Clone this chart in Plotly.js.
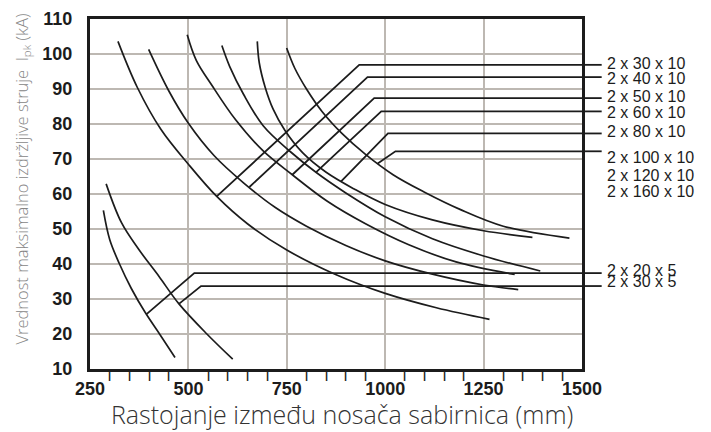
<!DOCTYPE html>
<html><head><meta charset="utf-8">
<script src="https://cdn.plot.ly/plotly-3.0.1.min.js"></script>
<style>html,body{margin:0;padding:0;background:#fff}#chart{width:711px;height:432px}</style>
</head><body><div id="chart"></div>
<script>
// ---- curve data (distance between supports in mm, peak current kA) ----
const x_30x10 = [321, 370, 430, 500, 572, 650, 750, 874, 1000, 1130, 1265];
const y_30x10 = [103.6, 90.5, 78.5, 68.5, 59.3, 51.5, 44, 37, 31.6, 27.5, 24.2];
const x_40x10 = [399, 450, 500, 565, 640, 720, 800, 900, 1000, 1120, 1250, 1338];
const y_40x10 = [101.3, 89.5, 80.2, 71, 63.2, 56.2, 50.8, 45.3, 40.9, 37.1, 34, 32.7];
const x_50x10 = [497, 520, 560, 620, 690, 764, 852, 950, 1060, 1180, 1329];
const y_50x10 = [105.5, 98.2, 91, 81.2, 72.3, 65.5, 58, 51.5, 45.5, 40.6, 37];
const x_60x10 = [585, 605, 640, 690, 760, 824, 900, 1000, 1120, 1250, 1394];
const y_60x10 = [102.4, 96.4, 88.5, 79.5, 72, 66.2, 60.3, 53.5, 47.2, 42.3, 38];
const x_80x10 = [675, 680, 695, 715, 745, 790, 850, 920, 1000, 1120, 1250, 1374];
const y_80x10 = [103.6, 97.5, 90.5, 84.3, 78.2, 71.8, 66.2, 61.5, 57, 52.6, 49.5, 47.6];
const x_100x10 = [749.6, 770, 800, 840, 890, 950, 1020, 1100, 1190, 1300, 1468];
const y_100x10 = [101.7, 96, 90, 83.5, 77.3, 71.3, 65.5, 60.5, 55.6, 50.8, 47.4];
const x_20x5 = [284, 300, 325, 355, 390, 428, 466];
const y_20x5 = [55.3, 47, 40, 33, 26.2, 19.8, 13.3];
const x_30x5 = [291, 330, 375, 425, 476, 547, 612.6];
const y_30x5 = [62.9, 51.8, 44, 36.5, 28.6, 20, 12.8];

// ---- leader lines: point on curve -> elbow -> label line ----
const leaderFromX = [572, 655, 764, 824, 888, 981, 393, 476];
const leaderFromY = [59.3, 62.0, 65.5, 66.2, 63.6, 68.7, 25.6, 28.6];
const leaderElbowX = [934, 955, 972, 990, 1007, 1026, 515, 532];
const leaderLineY = [96.9, 93.4, 87.4, 83.6, 77.3, 72.2, 37.4, 33.7];

// ---- label texts ----
const labelTexts = ['2 x 30 x 10', '2 x 40 x 10', '2 x 50 x 10', '2 x 60 x 10', '2 x 80 x 10',
  '2 x 100 x 10', '2 x 120 x 10', '2 x 160 x 10', '2 x 20 x 5', '2 x 30 x 5'];
const labelY = [97.2, 93.1, 87.9, 83.3, 77.8, 70.5, 65.4, 60.6, 38.1, 35.0];

// ---- axis ticks ----
const xMajorStep = 250;
const xMinorStep = 50;
const xRange = [250, 1500];
const yRange = [10, 110];

const curveXs = [x_30x10, x_40x10, x_50x10, x_60x10, x_80x10, x_100x10, x_20x5, x_30x5];
const curveYs = [y_30x10, y_40x10, y_50x10, y_60x10, y_80x10, y_100x10, y_20x5, y_30x5];

const minorTickVals = [];
for (let v = xRange[0] + xMinorStep; v < xRange[1]; v += xMinorStep) {
  if (v % xMajorStep !== 0) minorTickVals.push(v);
}

const ink = '#1c1c1c';
const traces = [];
for (let i = 0; i < curveXs.length; i++) {
  traces.push({x: curveXs[i], y: curveYs[i], mode: 'lines', type: 'scatter',
    line: {color: ink, width: 1.7, shape: 'spline', smoothing: 1.0}, hoverinfo: 'skip'});
}
const shapes = [];
for (let i = 0; i < leaderFromX.length; i++) {
  traces.push({x: [leaderFromX[i], leaderElbowX[i], xRange[1]], y: [leaderFromY[i], leaderLineY[i], leaderLineY[i]],
    mode: 'lines', type: 'scatter', line: {color: ink, width: 1.8}, hoverinfo: 'skip'});
  shapes.push({type: 'line', xref: 'paper', yref: 'y', x0: 1, x1: 1.040, y0: leaderLineY[i], y1: leaderLineY[i],
    line: {color: ink, width: 1.8}});
}

const annotations = labelTexts.map((t, i) => ({
  text: t, xref: 'paper', yref: 'y', x: 1.046, y: labelY[i], xanchor: 'left', yanchor: 'middle',
  showarrow: false, font: {family: 'Liberation Sans, Arial, sans-serif', size: 16, color: '#1c1c1c'}
}));
// minor tick marks below the x axis
minorTickVals.forEach(v => {
  annotations.push({text: '|', xref: 'x', yref: 'paper', x: v, y: -0.016, xanchor: 'center', yanchor: 'middle',
    showarrow: false, font: {family: 'Liberation Sans, Arial, sans-serif', size: 11, color: ink, weight: 'bold'}});
});
annotations.push({
  text: 'Vrednost maksimalno izdržljive struje  I<sub>pk</sub> (kA)', xref: 'paper', yref: 'paper',
  x: -0.139, y: 0.543, xanchor: 'center', yanchor: 'middle', textangle: -90, showarrow: false,
  font: {family: 'Open Sans, sans-serif', size: 16.5, color: '#858585', weight: 300}
});
annotations.push({
  text: 'Rastojanje između nosača sabirnica (mm)', xref: 'paper', yref: 'paper',
  x: 0.513, y: -0.13, xanchor: 'center', yanchor: 'middle', showarrow: false,
  font: {family: 'Open Sans, sans-serif', size: 25, color: '#333333', weight: 300}
});

const tickFont = {family: 'Liberation Sans, Arial, sans-serif', size: 18, color: '#1c1c1c', weight: 'bold'};
const grid = '#bdb8b2';
const layout = {
  width: 711, height: 432,
  margin: {l: 90, r: 129, t: 19, b: 63},
  paper_bgcolor: '#ffffff', plot_bgcolor: '#ffffff',
  showlegend: false,
  xaxis: {range: xRange, tickmode: 'linear', tick0: xRange[0], dtick: xMajorStep,
    showgrid: true, gridcolor: grid, gridwidth: 2, zeroline: false,
    showline: true, mirror: true, linecolor: ink, linewidth: 3,
    ticks: 'outside', ticklen: 1, tickcolor: 'rgba(0,0,0,0)', tickfont: tickFont},
  yaxis: {range: yRange, tickmode: 'linear', tick0: yRange[0], dtick: 10,
    showgrid: true, gridcolor: grid, gridwidth: 2, zeroline: false,
    showline: true, mirror: true, linecolor: ink, linewidth: 3,
    ticks: 'outside', ticklen: 11, tickcolor: 'rgba(0,0,0,0)', tickfont: tickFont},
  shapes: shapes,
  annotations: annotations
};
Plotly.newPlot('chart', traces, layout, {staticPlot: true, displayModeBar: false});
</script></body></html>
